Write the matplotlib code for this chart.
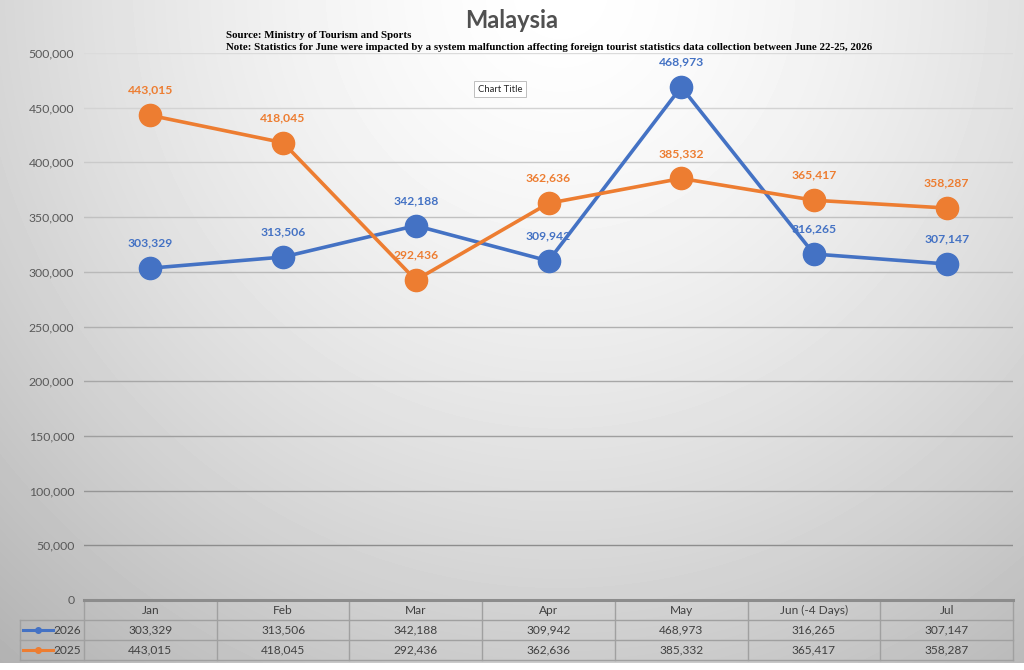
import numpy as np
import matplotlib.pyplot as plt
from matplotlib.ticker import FuncFormatter

months = ["Jan", "Feb", "Mar", "Apr", "May", "Jun (-4 Days)", "Jul"]
arrivals_2026 = [303329, 313506, 342188, 309942, 468973, 316265, 307147]
arrivals_2025 = [443015, 418045, 292436, 362636, 385332, 365417, 358287]
series_names = ["2026", "2025"]

BLUE = "#4472C4"
ORANGE = "#ED7D31"
TXT = "#595959"

plt.rcParams["font.family"] = ["Lato", "DejaVu Sans"]

W, H = 1024, 670
fig = plt.figure(figsize=(W / 100, H / 100), dpi=100)


def box(l, t, r, b):
    # pixel box -> figure fraction
    return [l / W, 1 - b / H, (r - l) / W, (b - t) / H]


# grey radial background like the excel gradient fill
bg = fig.add_axes([0, 0, 1, 1], zorder=-10)
yy, xx = np.mgrid[0:H, 0:W]
r = np.sqrt(((xx - 560) / 800.0) ** 2 + ((yy + 10) / 820.0) ** 2)
shade = np.clip(1 - 0.27 * r ** 1.5, 0, 1)
shade[663:, :] = 1.0
bg.imshow(shade, cmap="gray", vmin=0, vmax=1, aspect="auto", extent=(0, W, H, 0))
bg.set_xlim(0, W)
bg.set_ylim(H, 0)
bg.axis("off")

# main plot
ax = fig.add_axes(box(84, 53, 1013, 600))
ax.patch.set_alpha(0)
x = np.arange(len(months))
ax.set_xlim(-0.5, len(months) - 0.5)
ax.set_ylim(0, 500000)
ax.set_yticks(np.arange(0, 500001, 50000))
ax.yaxis.set_major_formatter(FuncFormatter(lambda v, p: f"{int(v):,}"))
ax.tick_params(axis="y", length=0, pad=7, labelsize=8.8, labelcolor=TXT)
ax.set_xticks([])
for s in ax.spines.values():
    s.set_visible(False)
ax.grid(axis="y", lw=1)
for i, gl in enumerate(ax.yaxis.get_gridlines()):
    c = 0.52 + 0.34 * i / 10
    gl.set_color((c, c, c))

ax.plot(x, arrivals_2026, color=BLUE, lw=2.6, marker="o", ms=16, zorder=3)
ax.plot(x, arrivals_2025, color=ORANGE, lw=2.6, marker="o", ms=16, zorder=4)
for vals, col in [(arrivals_2026, BLUE), (arrivals_2025, ORANGE)]:
    for xi, v in zip(x, vals):
        ax.annotate(f"{v:,}", (xi, v), xytext=(0, 18), textcoords="offset points",
                    ha="center", va="center", fontsize=8.7, fontweight="bold",
                    color=col, zorder=2)

# titles
fig.text(512 / W, 1 - 21 / H, "Malaysia", ha="center", va="center",
         fontsize=17, fontweight="bold", color="#505050")
fig.text(226 / W, 1 - 36 / H, "Source: Ministry of Tourism and Sports",
         ha="left", va="center", fontsize=7.8, fontweight="bold",
         family="Liberation Serif", color="black")
fig.text(226 / W, 1 - 47 / H,
         "Note: Statistics for June were impacted by a system malfunction affecting "
         "foreign tourist statistics data collection between June 22-25, 2026",
         ha="left", va="center", fontsize=7.8, fontweight="bold",
         family="Liberation Serif", color="black")
fig.text(500 / W, 1 - 89 / H, "Chart Title", ha="center", va="center",
         fontsize=6.8, color="#262626",
         bbox=dict(boxstyle="square,pad=0.4", fc="white", ec="#bfbfbf", lw=0.7))

# data table under the axis
cellw = (1013 - 84) / len(months)


def px(p):
    return -0.5 + (p - 84) / cellw


tb = fig.add_axes(box(20, 600, 1013, 660))
tb.patch.set_alpha(0)
tb.set_xlim(px(20), len(months) - 0.5)
tb.set_ylim(3, 0)
tb.axis("off")
gc = "#a0a0a0"
left = px(20)
right = len(months) - 0.5
for yv in [1, 2, 3]:
    tb.plot([left, right], [yv, yv], color=gc, lw=1, clip_on=False)
tb.plot([left, left], [1, 3], color=gc, lw=1, clip_on=False)
for k in range(len(months) + 1):
    tb.plot([k - 0.5, k - 0.5], [0, 3], color=gc, lw=1, clip_on=False)
tb.plot([-0.5, right], [0, 0], color="#8c8c8c", lw=2.2, clip_on=False)

for k, m in enumerate(months):
    tb.text(k, 0.5, m, ha="center", va="center", fontsize=8.6, color="#404040")
    tb.text(k, 1.5, f"{arrivals_2026[k]:,}", ha="center", va="center", fontsize=8.6, color="#404040")
    tb.text(k, 2.5, f"{arrivals_2025[k]:,}", ha="center", va="center", fontsize=8.6, color="#404040")

for row, (name, col) in enumerate(zip(series_names, [BLUE, ORANGE])):
    yv = row + 1.5
    tb.plot([px(23), px(53)], [yv, yv], color=col, lw=2.2, clip_on=False)
    tb.plot([px(38)], [yv], marker="o", ms=4, color=col, clip_on=False)
    tb.text(px(81), yv, name, ha="right", va="center", fontsize=8.6, color="#404040")

fig.savefig("out.png", dpi=100)
